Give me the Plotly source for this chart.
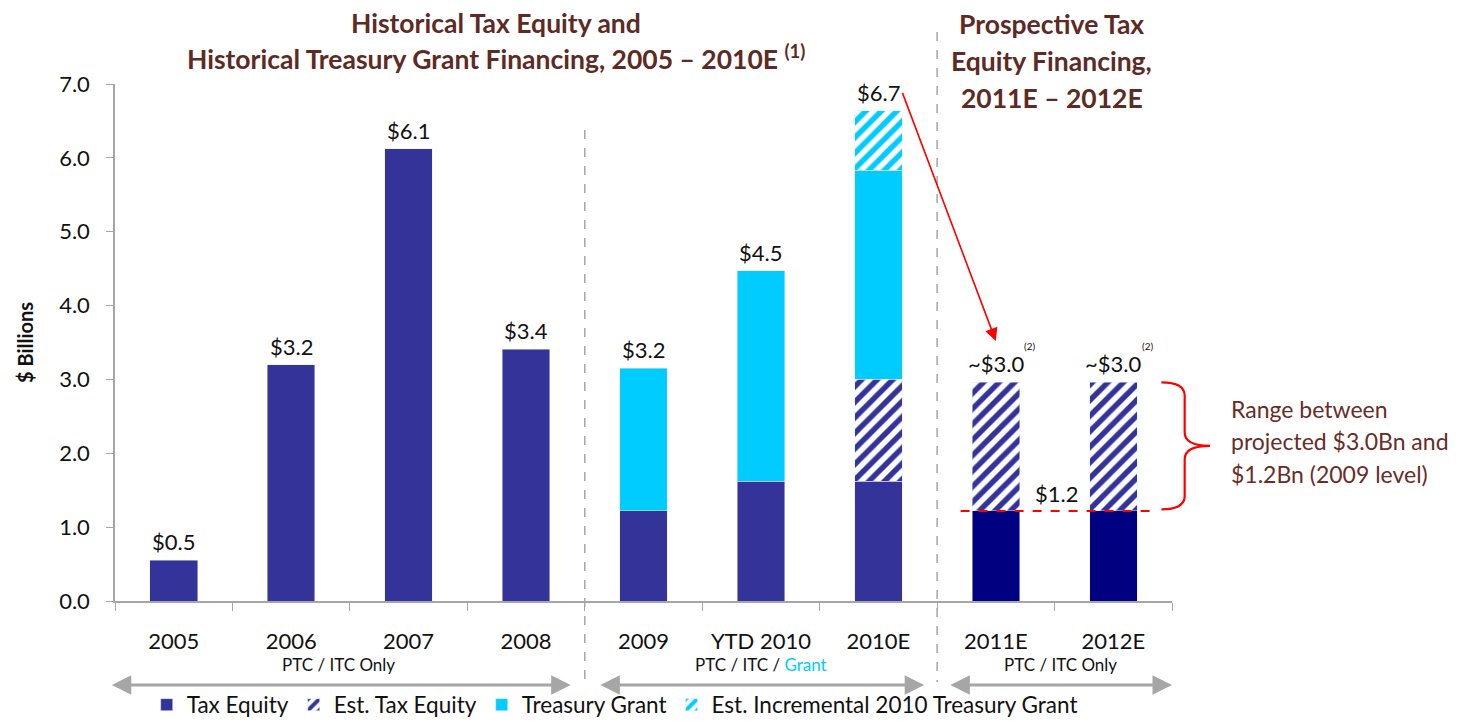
import plotly.graph_objects as go

# categories and values ($ Billions)
years = ["2005", "2006", "2007", "2008", "2009", "YTD 2010", "2010E", "2011E", "2012E"]
tax_equity = [0.55, 3.2, 6.12, 3.41, 1.22, 1.62, 1.62, None, None]
tax_equity_proj = [None, None, None, None, None, None, None, 1.22, 1.22]
est_tax_equity = [None, None, None, None, None, None, 1.38, 1.74, 1.74]
treasury_grant = [None, None, None, None, 1.93, 2.85, 2.83, None, None]
est_incr_grant = [None, None, None, None, None, None, 0.81, None, None]
bar_labels = ["$0.5", "$3.2", "$6.1", "$3.4", "$3.2", "$4.5", "$6.7", "~$3.0", "~$3.0"]
group_labels = ["PTC / ITC Only", "PTC / ITC / <span style='color:#00CCFF'>Grant</span>", "PTC / ITC Only"]
range_text = ["Range between", "projected $3.0Bn and", "$1.2Bn (2009 level)"]

FONT = "Lato"
NAVY = "#333399"
DNAVY = "#000080"
CYAN = "#00CCFF"
BROWN = "#5E2A24"
GREY = "#A6A6A6"
PH = 517  # plot height in px, used to place paper-referenced text
Y0 = 601  # page y of the zero line


def hatch(col):
    return dict(color="white",
                pattern=dict(shape="/", fgcolor=col, bgcolor="white", fgopacity=1,
                             size=11, solidity=0.5, fillmode="overlay"))


fig = go.Figure()
fig.add_trace(go.Bar(x=years, y=tax_equity, name="Tax Equity", marker_color=NAVY, width=0.405))
fig.add_trace(go.Bar(x=years, y=tax_equity_proj, name="Tax Equity", marker_color=DNAVY,
                     width=0.405, showlegend=False))
fig.add_trace(go.Bar(x=years, y=est_tax_equity, name="Est. Tax Equity", width=0.405, marker=hatch(NAVY)))
fig.add_trace(go.Bar(x=years, y=treasury_grant, name="Treasury Grant", marker_color=CYAN, width=0.405))
fig.add_trace(go.Bar(x=years, y=est_incr_grant, name="Est. Incremental 2010 Treasury Grant",
                     width=0.405, marker=hatch(CYAN)))

ann = []
# value labels on top of each stack
for i, yr in enumerate(years):
    tot = sum(v[i] or 0 for v in [tax_equity, tax_equity_proj, est_tax_equity, treasury_grant, est_incr_grant])
    ann.append(dict(x=i, y=tot, text=bar_labels[i], showarrow=False, yanchor="bottom", yshift=3,
                    font=dict(size=22, color="#111111")))
    if bar_labels[i].startswith("~"):
        ann.append(dict(x=i, y=tot, text="(2)", showarrow=False, yanchor="bottom", xshift=34, yshift=28,
                        font=dict(size=10, color="#111111")))

# 2009 level label
ann.append(dict(x=7.52, y=tax_equity[4], text="$%.1f" % tax_equity[4], showarrow=False,
                yanchor="bottom", yshift=2, font=dict(size=22, color="#111111")))

# red arrow from $6.7 to 2011E
ann.append(dict(x=7.0, y=3.52, ax=6.2, ay=6.9, axref="x", ayref="y", xref="x", yref="y",
                showarrow=True, arrowhead=2, arrowsize=1.6, arrowwidth=1.6, arrowcolor="#FF0000", text=""))

# titles
title_l = ["Historical Tax Equity and",
           "Historical Treasury Grant Financing, 2005 – 2010E <sup>(1)</sup>"]
for k, t in enumerate(title_l):
    ann.append(dict(x=0.36, y=(Y0 - 23 - 35 * k) / PH, xref="paper", yref="paper", text="<b>%s</b>" % t,
                    xanchor="center", yanchor="middle", showarrow=False, font=dict(size=26.5, color=BROWN)))
title_r = ["Prospective Tax", "Equity Financing,", "2011E – 2012E"]
for k, t in enumerate(title_r):
    ann.append(dict(x=0.886, y=(Y0 - 24 - 37 * k) / PH, xref="paper", yref="paper", text="<b>%s</b>" % t,
                    xanchor="center", yanchor="middle", showarrow=False, font=dict(size=26.5, color=BROWN)))

for k, t in enumerate(range_text):
    ann.append(dict(x=1.054, y=(Y0 - 409 - 32.5 * k) / PH, xref="paper", yref="paper", text=t,
                    xanchor="left", yanchor="middle", showarrow=False, font=dict(size=23, color="#6A2C27")))

# group labels and grey span arrows under the axis
groups = [(1.4, -0.54, 3.38), (5.0, 3.62, 6.39), (7.55, 6.6, 8.5)]
for (cx, a, b), g in zip(groups, group_labels):
    ann.append(dict(x=cx, y=-63 / PH, xref="x", yref="paper", text=g, showarrow=False,
                    xanchor="center", yanchor="middle", font=dict(size=17, color="#111111")))
    ann.append(dict(x=b, y=-84 / PH, xref="x", yref="paper", ax=a, ay=0, axref="x", ayref="pixel",
                    text="", showarrow=True, arrowside="end+start", arrowhead=2, arrowsize=1.3,
                    arrowwidth=3, arrowcolor=GREY))

shapes = [
    dict(type="line", xref="x", yref="paper", x0=3.5, x1=3.5, y0=(Y0 - 130) / PH, y1=-81 / PH,
         line=dict(color=GREY, width=1.5, dash="dash")),
    dict(type="line", xref="x", yref="paper", x0=6.5, x1=6.5, y0=(Y0 - 32) / PH, y1=-81 / PH,
         line=dict(color=GREY, width=1.5, dash="dash")),
    dict(type="line", xref="x", yref="y", x0=6.7, x1=8.35, y0=tax_equity[4], y1=tax_equity[4],
         line=dict(color="#FF0000", width=2, dash="dash")),
    dict(type="path", xref="paper", yref="y",
         path="M 0.990,2.96 Q 1.012,2.96 1.012,2.78 L 1.012,2.28 Q 1.012,2.10 1.036,2.10 "
              "Q 1.012,2.10 1.012,1.92 L 1.012,1.42 Q 1.012,1.24 0.990,1.24",
         line=dict(color="#FF0000", width=2.2)),
]

# the page body has an 8px margin, so the figure is 8px smaller than the window
fig.update_layout(
    barmode="stack",
    width=1469, height=713,
    margin=dict(l=107, r=305, t=76, b=120, autoexpand=False),
    paper_bgcolor="white", plot_bgcolor="white",
    font=dict(family=FONT, color="#111111"),
    annotations=ann, shapes=shapes,
    legend=dict(orientation="h", x=0.030, y=-104 / PH, xanchor="left", yanchor="middle",
                traceorder="normal", font=dict(size=22.5, color="#111111"), itemwidth=30,
                bgcolor="rgba(0,0,0,0)"),
)
fig.update_xaxes(type="category", range=[-0.5, 8.5], showline=True, linecolor=GREY, linewidth=1.5,
                 ticks="outside", tickson="boundaries", ticklen=8, tickcolor=GREY,
                 tickfont=dict(size=22, color="#111111"), ticklabelstandoff=20, showgrid=False,
                 automargin=False)
fig.update_yaxes(range=[0, 7], dtick=1, tickformat=".1f", showline=True, linecolor=GREY,
                 linewidth=1.5, ticks="outside", ticklen=7, tickcolor=GREY, showgrid=False,
                 zeroline=False, tickfont=dict(size=22, color="#111111"), ticklabelstandoff=12,
                 automargin=False,
                 title=dict(text="<b>$ Billions</b>", font=dict(size=20, color="#111111"), standoff=20))

fig.write_html("out.html")
